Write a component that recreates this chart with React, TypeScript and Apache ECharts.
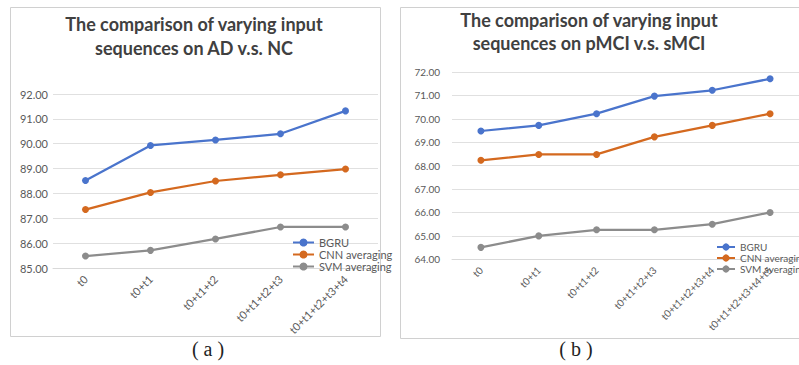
import React, { useEffect, useRef } from "react";
import * as echarts from "echarts";

const categoriesA = ["t0", "t0+t1", "t0+t1+t2", "t0+t1+t2+t3", "t0+t1+t2+t3+t4"];
const categoriesB = ["t0", "t0+t1", "t0+t1+t2", "t0+t1+t2+t3", "t0+t1+t2+t3+t4", "t0+t1+t2+t3+t4+t5"];
const seriesNames = ["BGRU", "CNN averaging", "SVM averaging"];
const bgruA = [88.52, 89.93, 90.15, 90.4, 91.32];
const cnnA = [87.35, 88.04, 88.5, 88.75, 88.98];
const svmA = [85.48, 85.71, 86.17, 86.65, 86.65];
const bgruB = [69.48, 69.72, 70.22, 70.97, 71.22, 71.71];
const cnnB = [68.23, 68.48, 68.48, 69.23, 69.72, 70.22];
const svmB = [64.51, 65.0, 65.26, 65.26, 65.5, 66.0];
const titleA = "The comparison of varying input\nsequences on AD v.s. NC";
const titleB = "The comparison of varying input\nsequences on pMCI v.s. sMCI";

const colors = ["#4a74cc", "#d4691f", "#8c8c8c"];
const FONT = "Lato, 'Open Sans', sans-serif";

export default function App() {
  const ref = useRef<HTMLDivElement>(null);
  useEffect(() => {
    document.body.style.margin = "0";
    const chart = echarts.init(ref.current!, null, { renderer: "svg" });
    const mkLine = (name: string, data: number[], idx: number, ci: number, size: number) => ({
      type: "line",
      name,
      data,
      xAxisIndex: idx,
      yAxisIndex: idx,
      symbol: "circle",
      symbolSize: size,
      lineStyle: { width: 2.25, color: colors[ci] },
      itemStyle: { color: colors[ci] },
    });
    const yAxis = (idx: number, min: number, max: number, fs: number, margin: number) => ({
      type: "value",
      gridIndex: idx,
      min,
      max,
      interval: 1,
      axisLine: { show: false },
      axisTick: { show: false },
      splitLine: { lineStyle: { color: "#e0e0e0", width: 1 } },
      axisLabel: {
        color: "#595959",
        fontSize: fs,
        fontFamily: FONT,
        margin,
        formatter: (v: number) => v.toFixed(2),
      },
    });
    const xAxis = (idx: number, data: string[], fs: number) => ({
      type: "category",
      gridIndex: idx,
      data,
      boundaryGap: true,
      axisLine: { show: true, lineStyle: { color: "#d9d9d9" } },
      axisTick: { show: false },
      axisLabel: { rotate: 45, color: "#595959", fontSize: fs, fontFamily: FONT, margin: 9, interval: 0 },
    });
    chart.setOption({
      animation: false,
      backgroundColor: "#ffffff",
      grid: [
        { left: 53, top: 94, width: 325, height: 174 },
        { left: 452, top: 72, width: 354, height: 187.3 },
      ],
      xAxis: [xAxis(0, categoriesA, 11), xAxis(1, categoriesB, 10)],
      yAxis: [yAxis(0, 85, 92, 11, 5), yAxis(1, 64, 72, 10, 12)],
      legend: [
        {
          orient: "vertical",
          left: 287,
          top: 232,
          itemWidth: 21,
          itemHeight: 10,
          itemGap: 1,
          data: seriesNames,
          textStyle: { color: "#595959", fontSize: 11, fontFamily: FONT },
        },
        {
          orient: "vertical",
          left: 711,
          top: 237,
          itemWidth: 18,
          itemHeight: 9,
          itemGap: 1,
          data: seriesNames,
          textStyle: { color: "#595959", fontSize: 10, fontFamily: FONT },
        },
      ],
      series: [
        mkLine(seriesNames[0], bgruA, 0, 0, 7),
        mkLine(seriesNames[1], cnnA, 0, 1, 7),
        mkLine(seriesNames[2], svmA, 0, 2, 7),
        mkLine(seriesNames[0], bgruB, 1, 0, 7),
        mkLine(seriesNames[1], cnnB, 1, 1, 7),
        mkLine(seriesNames[2], svmB, 1, 2, 7),
      ],
      graphic: [
        { type: "rect", shape: { x: 10.5, y: 7.5, width: 370, height: 329 }, style: { fill: "none", stroke: "#d0d0d0", lineWidth: 1 }, silent: true },
        { type: "rect", shape: { x: 400.5, y: 7.5, width: 410, height: 331 }, style: { fill: "none", stroke: "#d0d0d0", lineWidth: 1 }, silent: true },
        {
          type: "text",
          x: 194,
          y: 12,
          style: { text: titleA, fill: "#404040", font: `bold 18px ${FONT}`, textAlign: "center", lineHeight: 24 },
        },
        {
          type: "text",
          x: 589,
          y: 8,
          style: { text: titleB, fill: "#404040", font: `bold 18px ${FONT}`, textAlign: "center", lineHeight: 23 },
        },
        {
          type: "text",
          x: 208,
          y: 339,
          style: { text: "( a )", fill: "#222", font: "20px 'Liberation Serif', serif", textAlign: "center" },
        },
        {
          type: "text",
          x: 576,
          y: 339,
          style: { text: "( b )", fill: "#222", font: "20px 'Liberation Serif', serif", textAlign: "center" },
        },
      ],
    });
    return () => chart.dispose();
  }, []);
  return <div ref={ref} style={{ position: "absolute", left: 0, top: 0, width: 799, height: 365 }} />;
}
